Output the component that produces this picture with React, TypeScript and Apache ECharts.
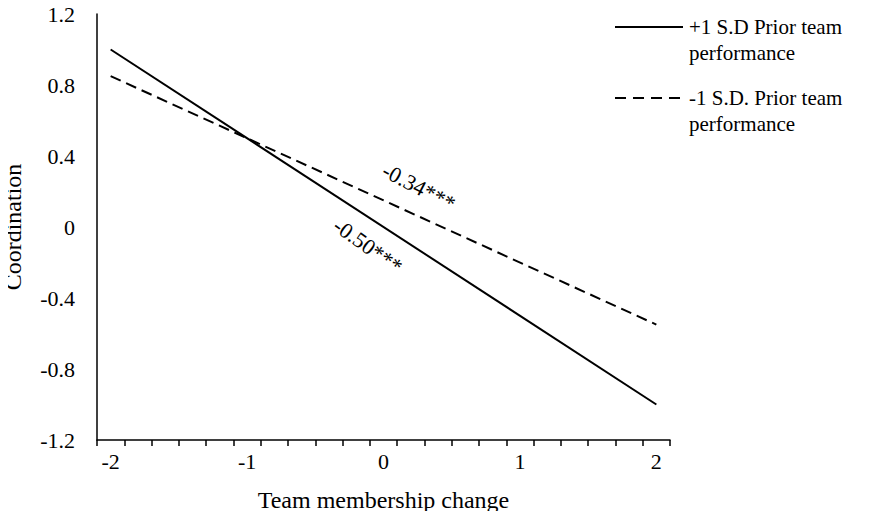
import React, { useEffect, useRef } from "react";
import * as echarts from "echarts";

const categories = [
  "-2", "-1.8", "-1.6", "-1.4", "-1.2", "-1", "-0.8", "-0.6", "-0.4", "-0.2",
  "0", "0.2", "0.4", "0.6", "0.8", "1", "1.2", "1.4", "1.6", "1.8", "2",
];
const highPerfName = "+1 S.D Prior team performance";
const lowPerfName = "-1 S.D. Prior team performance";
const highPerf: [string, number][] = [["-2", 1.0], ["2", -1.0]];
const lowPerf: [string, number][] = [["-2", 0.85], ["2", -0.55]];
const slopeLabels = ["-0.34***", "-0.50***"];

const FONT = "'Liberation Serif', 'Times New Roman', serif";

export default function App() {
  const ref = useRef<HTMLDivElement>(null);
  useEffect(() => {
    if (!ref.current) return;
    const chart = echarts.init(ref.current, undefined, { renderer: "svg" });
    chart.setOption({
      animation: false,
      backgroundColor: "#fff",
      textStyle: { fontFamily: FONT, color: "#000" },
      grid: { left: 97, right: 201, top: 14, bottom: 79, containLabel: false, outerBoundsMode: "none" },
      xAxis: {
        type: "category",
        data: categories,
        boundaryGap: true,
        name: "Team membership change",
        nameLocation: "middle",
        nameGap: 48,
        nameTextStyle: { fontFamily: FONT, fontSize: 24, color: "#000" },
        axisLine: { onZero: false, lineStyle: { color: "#000", width: 1.5 } },
        axisTick: { show: true, interval: 0, alignWithLabel: false, length: 6, lineStyle: { color: "#000", width: 1.5 } },
        axisLabel: { interval: 4, fontFamily: FONT, fontSize: 22, color: "#000", margin: 10 },
        splitLine: { show: false },
      },
      yAxis: {
        type: "value",
        min: -1.2,
        max: 1.2,
        interval: 0.4,
        name: "Coordination",
        nameLocation: "middle",
        nameGap: 72,
        nameRotate: 90,
        nameTextStyle: { fontFamily: FONT, fontSize: 24, color: "#000" },
        axisLine: { show: true, onZero: false, lineStyle: { color: "#000", width: 1.5 } },
        axisTick: { show: false },
        axisLabel: {
          fontFamily: FONT,
          fontSize: 22,
          color: "#000",
          margin: 22,
          formatter: (v: number) => String(Math.round(v * 10) / 10),
        },
        splitLine: { show: false },
      },
      series: [
        {
          name: highPerfName,
          type: "line",
          data: highPerf,
          symbol: "none",
          lineStyle: { color: "#000", width: 2, type: "solid" },
        },
        {
          name: lowPerfName,
          type: "line",
          data: lowPerf,
          symbol: "none",
          lineStyle: { color: "#000", width: 2, type: [11, 6] },
        },
      ],
      graphic: [
        {
          type: "line",
          shape: { x1: 615, y1: 27, x2: 683, y2: 27 },
          style: { stroke: "#000", lineWidth: 2 },
        },
        {
          type: "text",
          x: 689,
          y: 14,
          style: {
            text: "+1 S.D Prior team\nperformance",
            fontFamily: FONT,
            fontSize: 21,
            lineHeight: 26,
            fill: "#000",
            textAlign: "left",
            textVerticalAlign: "top",
          },
        },
        {
          type: "line",
          shape: { x1: 615, y1: 98, x2: 683, y2: 98 },
          style: { stroke: "#000", lineWidth: 2, lineDash: [11, 7] },
        },
        {
          type: "text",
          x: 689,
          y: 85,
          style: {
            text: "-1 S.D. Prior team\nperformance",
            fontFamily: FONT,
            fontSize: 21,
            lineHeight: 26,
            fill: "#000",
            textAlign: "left",
            textVerticalAlign: "top",
          },
        },
        {
          type: "text",
          x: 419,
          y: 187,
          rotation: -0.48,
          style: {
            text: slopeLabels[0],
            fontFamily: FONT,
            fontSize: 22,
            fill: "#000",
            textAlign: "center",
            textVerticalAlign: "middle",
          },
        },
        {
          type: "text",
          x: 368,
          y: 246,
          rotation: -0.62,
          style: {
            text: slopeLabels[1],
            fontFamily: FONT,
            fontSize: 22,
            fill: "#000",
            textAlign: "center",
            textVerticalAlign: "middle",
          },
        },
      ],
    });
    return () => chart.dispose();
  }, []);
  return <div ref={ref} style={{ width: 871, height: 519, margin: -8 }} />;
}
